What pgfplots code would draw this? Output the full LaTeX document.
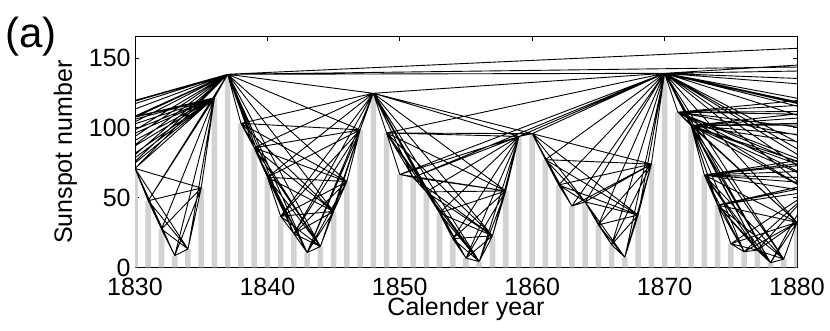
\documentclass[border=0pt]{standalone}
\usepackage{fontspec}
\setmainfont{Liberation Sans}
\usepackage{pgfplots}
\usepackage{pgfplotstable}
\pgfplotsset{compat=1.18}

% yearly sunspot numbers (the window shown is 1830-1880, the rest feeds the long links)
\pgfplotstableread{
year ssn
1800 14.5
1801 34.0
1802 45.0
1803 43.1
1804 47.5
1805 42.2
1806 28.1
1807 10.1
1808 8.1
1809 2.5
1810 0.0
1811 1.4
1812 5.0
1813 12.2
1814 13.9
1815 35.4
1816 45.8
1817 41.1
1818 30.1
1819 23.9
1820 15.6
1821 6.6
1822 4.0
1823 1.8
1824 8.5
1825 16.6
1826 36.3
1827 49.6
1828 64.2
1829 67.0
1830 70.9
1831 47.8
1832 27.5
1833 8.5
1834 13.2
1835 56.9
1836 121.5
1837 138.3
1838 103.2
1839 85.7
1840 64.6
1841 36.7
1842 24.2
1843 10.7
1844 15.0
1845 40.1
1846 61.5
1847 98.5
1848 124.7
1849 96.3
1850 66.6
1851 64.5
1852 54.1
1853 39.0
1854 20.6
1855 6.7
1856 4.3
1857 22.7
1858 54.8
1859 93.8
1860 95.8
1861 77.2
1862 59.1
1863 44.0
1864 47.0
1865 30.5
1866 16.3
1867 7.3
1868 37.6
1869 74.0
1870 139.0
1871 111.2
1872 101.6
1873 66.2
1874 44.7
1875 17.0
1876 11.3
1877 12.4
1878 3.4
1879 6.0
1880 32.3
1881 54.3
1882 59.7
1883 63.7
1884 63.5
1885 52.2
1886 25.4
1887 13.1
1888 6.8
1889 6.3
1890 7.1
1891 35.6
1892 73.0
1893 85.1
1894 78.0
1895 64.0
1896 41.8
1897 26.2
1898 26.7
1899 12.1
1900 9.5
1901 2.7
1902 5.0
1903 24.4
1904 42.0
1905 63.5
1906 53.8
1907 62.0
1908 48.5
1909 43.9
1910 18.6
1911 5.7
1912 3.6
1913 1.4
1914 9.6
1915 47.4
1916 57.1
1917 103.9
1918 80.6
1919 63.6
1920 37.6
1921 26.1
1922 14.2
1923 5.8
1924 16.7
1925 44.3
1926 63.9
1927 69.0
1928 77.8
1929 64.9
1930 35.7
1931 21.2
1932 11.1
1933 5.7
1934 8.7
1935 36.1
1936 79.7
1937 114.4
1938 109.6
1939 88.8
1940 67.8
1941 47.5
1942 30.6
1943 16.3
1944 9.6
1945 33.2
1946 92.6
1947 151.6
1948 136.3
1949 134.7
1950 83.9
1951 69.4
1952 31.5
1953 13.9
1954 4.4
1955 38.0
1956 141.7
1957 190.2
1958 184.8
1959 159.0
1960 112.3
}\sunspots

% keep values by row index
\pgfplotstableforeachcolumnelement{ssn}\of\sunspots\as\cell{%
  \expandafter\xdef\csname v@\pgfplotstablerow\endcsname{\cell}}
\pgfplotstablegetrowsof{\sunspots}
\newcount\npts \npts=\pgfplotsretval\relax

% natural visibility links: b is seen from a when its slope beats every slope before it
\newcount\ia \newcount\ib \newcount\nn
\newdimen\ya \newdimen\yb \newdimen\sl \newdimen\smax
\gdef\edges{}
\ia=0
\loop
  \ya=\csname v@\the\ia\endcsname pt
  \smax=-16000pt
  \ib=\ia \advance\ib by 1
  {\loop
    \yb=\csname v@\the\ib\endcsname pt
    \sl=\yb \advance\sl by -\ya
    \nn=\ib \advance\nn by -\ia
    \divide\sl by \nn
    \ifdim\sl>\smax
      \smax=\sl
      \ifnum\ib>29
        \xdef\edges{\edges(\the\numexpr1800+\ia\relax,\csname v@\the\ia\endcsname)(\the\numexpr1800+\ib\relax,\csname v@\the\ib\endcsname)(\the\numexpr1800+\ib\relax,nan)}%
      \fi
    \fi
    \advance\ib by 1
  \ifnum\ib<\npts\repeat}%
  \advance\ia by 1
\ifnum\ia<81\repeat

\begin{document}
\begin{tikzpicture}[font=\fontsize{12.5}{15}\selectfont]
\useasboundingbox (-67.5pt,-31.75pt) rectangle (347.5pt,133.75pt);
\begin{axis}[
  at={(0,0)}, anchor=south west,
  scale only axis,
  width=331pt, height=115.25pt,
  xmin=1830, xmax=1880,
  ymin=0, ymax=165,
  xtick={1830,1840,...,1880},
  ytick={0,50,100,150},
  tick align=inside,
  major tick length=2pt,
  tick style={black, line width=0.4pt},
  axis line style={line width=0.5pt},
  /pgf/number format/assume math mode=true,
  /pgf/number format/1000 sep={},
  x tick label style={inner sep=0pt, yshift=-5pt},
  y tick label style={inner sep=0pt, xshift=-2pt},
  xlabel={Calender year},
  ylabel={Sunspot number},
  xlabel style={at={(axis description cs:0.5,-0.2104)}, anchor=base, inner sep=0pt},
  ylabel style={at={(axis description cs:-0.0952,0.5)}, anchor=base, inner sep=0pt},
]
\addplot[ybar, bar width=0.42, bar shift=0pt, fill=gray!35, draw=none]
  table[x=year, y=ssn] {\sunspots};
\edef\doedges{\noexpand\addplot[black, line width=0.45pt, unbounded coords=jump]
  coordinates {\edges};}
\doedges
\end{axis}
\node[anchor=west, inner sep=0pt, font=\fontsize{21}{25}\selectfont] at (-65pt,115.25pt) {(a)};
\end{tikzpicture}
\end{document}
